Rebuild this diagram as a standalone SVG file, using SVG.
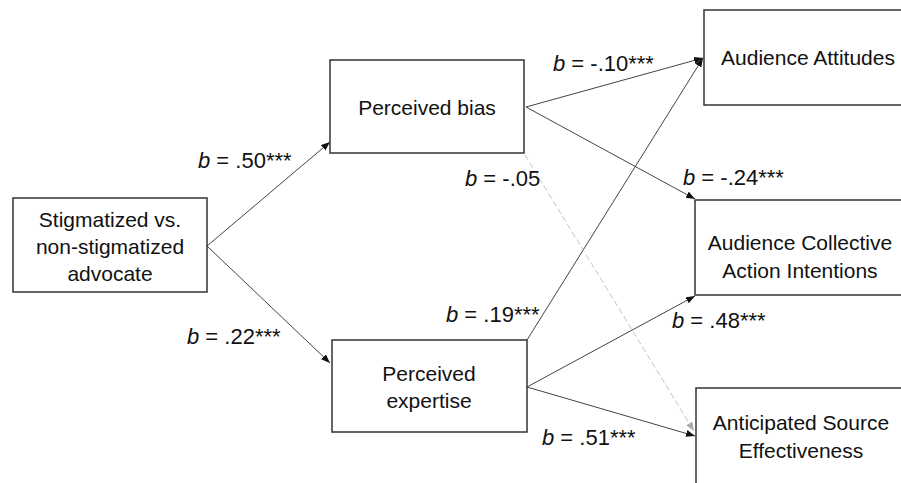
<svg xmlns="http://www.w3.org/2000/svg" width="901" height="483" viewBox="0 0 901 483">
<defs>
<style>
.box{fill:#fff;stroke:#333;stroke-width:1.5}
.nt{font-family:"Liberation Sans",Arial,sans-serif;font-size:21px;fill:#111;text-anchor:middle}
.lb{font-family:"Liberation Sans",Arial,sans-serif;font-size:22px;fill:#111}
.lb tspan.b{font-style:italic}
.ln{stroke:#444;stroke-width:1;fill:none;marker-end:url(#ah)}
.dl{stroke:#c4c4c4;stroke-width:1;fill:none;stroke-dasharray:6 3;marker-end:url(#ahg)}
</style>
<marker id="ah" markerUnits="userSpaceOnUse" markerWidth="10" markerHeight="8" refX="9" refY="3.5" orient="auto">
<path d="M0,0 L9,3.5 L0,7 z" fill="#111"/>
</marker>
<marker id="ahg" markerUnits="userSpaceOnUse" markerWidth="10" markerHeight="8" refX="9" refY="3.5" orient="auto">
<path d="M0,0 L9,3.5 L0,7 z" fill="#aaa"/>
</marker>
</defs>
<rect width="901" height="483" fill="#fff"/>
<g id="connectors">
<line class="ln" x1="207" y1="246" x2="330" y2="142"/>
<line class="ln" x1="207" y1="246" x2="330" y2="363"/>
<line class="ln" x1="526" y1="107" x2="703" y2="58"/>
<line class="ln" x1="526" y1="107" x2="695" y2="199"/>
<line class="ln" x1="527" y1="340" x2="703" y2="58"/>
<line class="ln" x1="527" y1="387" x2="695" y2="296"/>
<line class="ln" x1="527" y1="387" x2="695" y2="436"/>
<line class="dl" x1="525" y1="155" x2="694" y2="431"/>
</g>
<g id="stigmatized">
<rect class="box" x="13" y="198" width="194" height="94"/>
<text class="nt" x="110" y="227">Stigmatized vs.</text>
<text class="nt" x="110" y="254">non-stigmatized</text>
<text class="nt" x="110" y="281">advocate</text>
</g>
<g id="bias">
<rect class="box" x="330" y="60" width="194" height="93"/>
<text class="nt" x="427" y="115">Perceived bias</text>
</g>
<g id="expertise">
<rect class="box" x="332" y="340" width="195" height="92"/>
<text class="nt" x="429" y="381">Perceived</text>
<text class="nt" x="429" y="408">expertise</text>
</g>
<g id="attitudes">
<rect class="box" x="704" y="10" width="210" height="95"/>
<text class="nt" x="808" y="65">Audience Attitudes</text>
</g>
<g id="collective">
<rect class="box" x="695" y="200" width="220" height="95"/>
<text class="nt" x="800" y="250">Audience Collective</text>
<text class="nt" x="800" y="278">Action Intentions</text>
</g>
<g id="effectiveness">
<rect class="box" x="696" y="388" width="220" height="110"/>
<text class="nt" x="801" y="430">Anticipated Source</text>
<text class="nt" x="801" y="458">Effectiveness</text>
</g>
<g id="labels">
<text class="lb" x="198" y="168"><tspan class="b">b</tspan> = .50***</text>
<text class="lb" x="187" y="344"><tspan class="b">b</tspan> = .22***</text>
<text class="lb" x="553" y="71"><tspan class="b">b</tspan> = -.10***</text>
<text class="lb" x="683" y="185"><tspan class="b">b</tspan> = -.24***</text>
<text class="lb" x="465" y="186"><tspan class="b">b</tspan> = -.05</text>
<text class="lb" x="446" y="322"><tspan class="b">b</tspan> = .19***</text>
<text class="lb" x="672" y="328"><tspan class="b">b</tspan> = .48***</text>
<text class="lb" x="542" y="445"><tspan class="b">b</tspan> = .51***</text>
</g>
</svg>
